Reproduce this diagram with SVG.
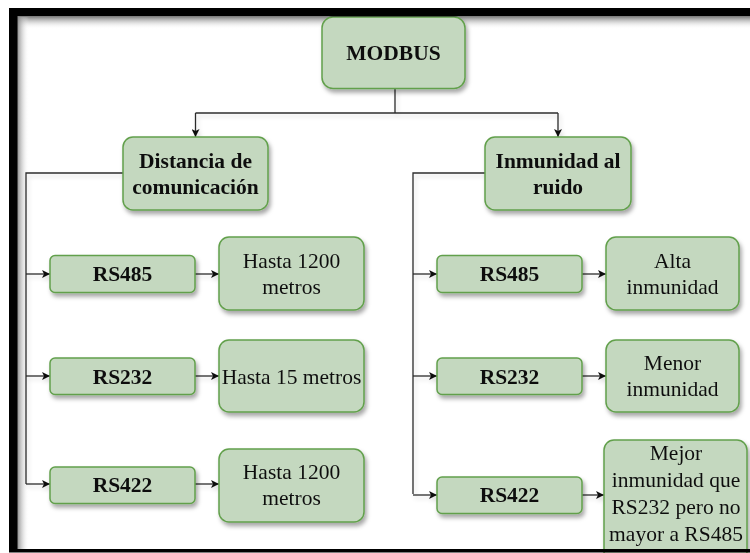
<svg xmlns="http://www.w3.org/2000/svg" width="750" height="553" viewBox="0 0 750 553">
  <defs>
    <style>
      .box { fill: #c4d8bf; stroke: #62a04c; stroke-width: 1.5; }
      .hd { font-family: "Liberation Serif", "Times New Roman", serif; font-weight: bold; font-size: 21.5px; fill: #111; text-anchor: middle; }
      .tx { font-family: "Liberation Serif", "Times New Roman", serif; font-size: 21.5px; fill: #111; text-anchor: middle; }
      .ln { fill: none; stroke: #2b2b2b; stroke-width: 1.3; }
    </style>
    <filter id="shadow" x="-20%" y="-20%" width="150%" height="160%">
      <feDropShadow dx="2" dy="3.5" stdDeviation="2.2" flood-color="#000" flood-opacity="0.35"/>
    </filter>
    <filter id="lshadow" x="-10%" y="-10%" width="130%" height="130%">
      <feDropShadow dx="2" dy="3" stdDeviation="2" flood-color="#000" flood-opacity="0.15"/>
    </filter>
    <marker id="arr" viewBox="0 0 10 10" refX="10" refY="5" markerWidth="9" markerHeight="8" markerUnits="userSpaceOnUse" orient="auto">
      <path d="M0,0 L10,5 L0,10 L2.5,5 Z" fill="#111"/>
    </marker>
    <linearGradient id="topShade" x1="0" y1="0" x2="0" y2="1">
      <stop offset="0" stop-color="#7a7a7a" stop-opacity="0.9"/>
      <stop offset="1" stop-color="#ffffff" stop-opacity="0"/>
    </linearGradient>
    <linearGradient id="leftShade" x1="0" y1="0" x2="1" y2="0">
      <stop offset="0" stop-color="#7a7a7a" stop-opacity="0.9"/>
      <stop offset="1" stop-color="#ffffff" stop-opacity="0"/>
    </linearGradient>
  </defs>

  <!-- page background and frame -->
  <rect x="0" y="0" width="750" height="553" fill="#ffffff"/>
  <rect x="17" y="17" width="733" height="12" fill="url(#topShade)"/>
  <rect x="17" y="17" width="12" height="532" fill="url(#leftShade)"/>

  <!-- connectors -->
  <g id="connectors" filter="url(#lshadow)">
    <path class="ln" d="M395,89 V113"/>
    <path class="ln" d="M195.5,113 H558"/>
    <path class="ln" d="M195.5,113 V137" marker-end="url(#arr)"/>
    <path class="ln" d="M558,113 V137" marker-end="url(#arr)"/>

    <path class="ln" d="M123,173 H26 V484"/>
    <path class="ln" d="M26,274 H50" marker-end="url(#arr)"/>
    <path class="ln" d="M26,376 H50" marker-end="url(#arr)"/>
    <path class="ln" d="M26,484 H50" marker-end="url(#arr)"/>
    <path class="ln" d="M195,274 H219" marker-end="url(#arr)"/>
    <path class="ln" d="M195,376 H219" marker-end="url(#arr)"/>
    <path class="ln" d="M195,484 H219" marker-end="url(#arr)"/>

    <path class="ln" d="M485,173 H413 V494"/>
    <path class="ln" d="M413,274 H437" marker-end="url(#arr)"/>
    <path class="ln" d="M413,376 H437" marker-end="url(#arr)"/>
    <path class="ln" d="M413,495 H437" marker-end="url(#arr)"/>
    <path class="ln" d="M582,274 H606" marker-end="url(#arr)"/>
    <path class="ln" d="M582,376 H606" marker-end="url(#arr)"/>
    <path class="ln" d="M582,495 H604" marker-end="url(#arr)"/>
  </g>

  <!-- root -->
  <g id="modbus" filter="url(#shadow)">
    <rect class="box" x="322" y="17" width="143" height="71.5" rx="11"/>
    <text class="hd" x="393.5" y="59.5">MODBUS</text>
  </g>

  <!-- left branch -->
  <g id="distancia" filter="url(#shadow)">
    <rect class="box" x="123" y="137" width="145" height="73" rx="10"/>
    <text class="hd" x="195.5" y="168">Distancia de</text>
    <text class="hd" x="195.5" y="194">comunicación</text>
  </g>
  <g id="d-rs485" filter="url(#shadow)">
    <rect class="box" x="50" y="255.5" width="145" height="37" rx="5"/>
    <text class="hd" x="122.5" y="281">RS485</text>
  </g>
  <g id="d-rs485-val" filter="url(#shadow)">
    <rect class="box" x="219" y="237" width="145" height="73" rx="10"/>
    <text class="tx" x="291.5" y="267.5">Hasta 1200</text>
    <text class="tx" x="291.5" y="293.5">metros</text>
  </g>
  <g id="d-rs232" filter="url(#shadow)">
    <rect class="box" x="50" y="358" width="145" height="36.5" rx="5"/>
    <text class="hd" x="122.5" y="383.5">RS232</text>
  </g>
  <g id="d-rs232-val" filter="url(#shadow)">
    <rect class="box" x="219" y="340" width="145" height="72" rx="10"/>
    <text class="tx" x="291.5" y="383.5">Hasta 15 metros</text>
  </g>
  <g id="d-rs422" filter="url(#shadow)">
    <rect class="box" x="50" y="467" width="145" height="36.5" rx="5"/>
    <text class="hd" x="122.5" y="492">RS422</text>
  </g>
  <g id="d-rs422-val" filter="url(#shadow)">
    <rect class="box" x="219" y="449" width="145" height="73" rx="10"/>
    <text class="tx" x="291.5" y="479">Hasta 1200</text>
    <text class="tx" x="291.5" y="505">metros</text>
  </g>

  <!-- right branch -->
  <g id="inmunidad" filter="url(#shadow)">
    <rect class="box" x="485" y="137" width="146" height="73" rx="10"/>
    <text class="hd" x="558" y="167.5">Inmunidad al</text>
    <text class="hd" x="558" y="193.5">ruido</text>
  </g>
  <g id="i-rs485" filter="url(#shadow)">
    <rect class="box" x="437" y="255.5" width="145" height="37" rx="5"/>
    <text class="hd" x="509.5" y="281">RS485</text>
  </g>
  <g id="i-rs485-val" filter="url(#shadow)">
    <rect class="box" x="606" y="237" width="133" height="73" rx="10"/>
    <text class="tx" x="672.5" y="267.5">Alta</text>
    <text class="tx" x="672.5" y="293.5">inmunidad</text>
  </g>
  <g id="i-rs232" filter="url(#shadow)">
    <rect class="box" x="437" y="358" width="145" height="36.5" rx="5"/>
    <text class="hd" x="509.5" y="383.5">RS232</text>
  </g>
  <g id="i-rs232-val" filter="url(#shadow)">
    <rect class="box" x="606" y="340" width="133" height="72" rx="10"/>
    <text class="tx" x="672.5" y="369.5">Menor</text>
    <text class="tx" x="672.5" y="395.5">inmunidad</text>
  </g>
  <g id="i-rs422" filter="url(#shadow)">
    <rect class="box" x="437" y="477" width="145" height="36.5" rx="5"/>
    <text class="hd" x="509.5" y="502">RS422</text>
  </g>
  <g id="i-rs422-val" filter="url(#shadow)">
    <rect class="box" x="604" y="440" width="143" height="122" rx="10"/>
    <text class="tx" x="676" y="460">Mejor</text>
    <text class="tx" x="676" y="487">inmunidad que</text>
    <text class="tx" x="676" y="514">RS232 pero no</text>
    <text class="tx" x="676" y="541">mayor a RS485</text>
  </g>

  <!-- outer black frame -->
  <path d="M9,8 H750 V16.5 H17.5 V549 H9 Z" fill="#000"/>
  <rect x="9" y="549" width="741" height="3.5" fill="#000"/>
</svg>
